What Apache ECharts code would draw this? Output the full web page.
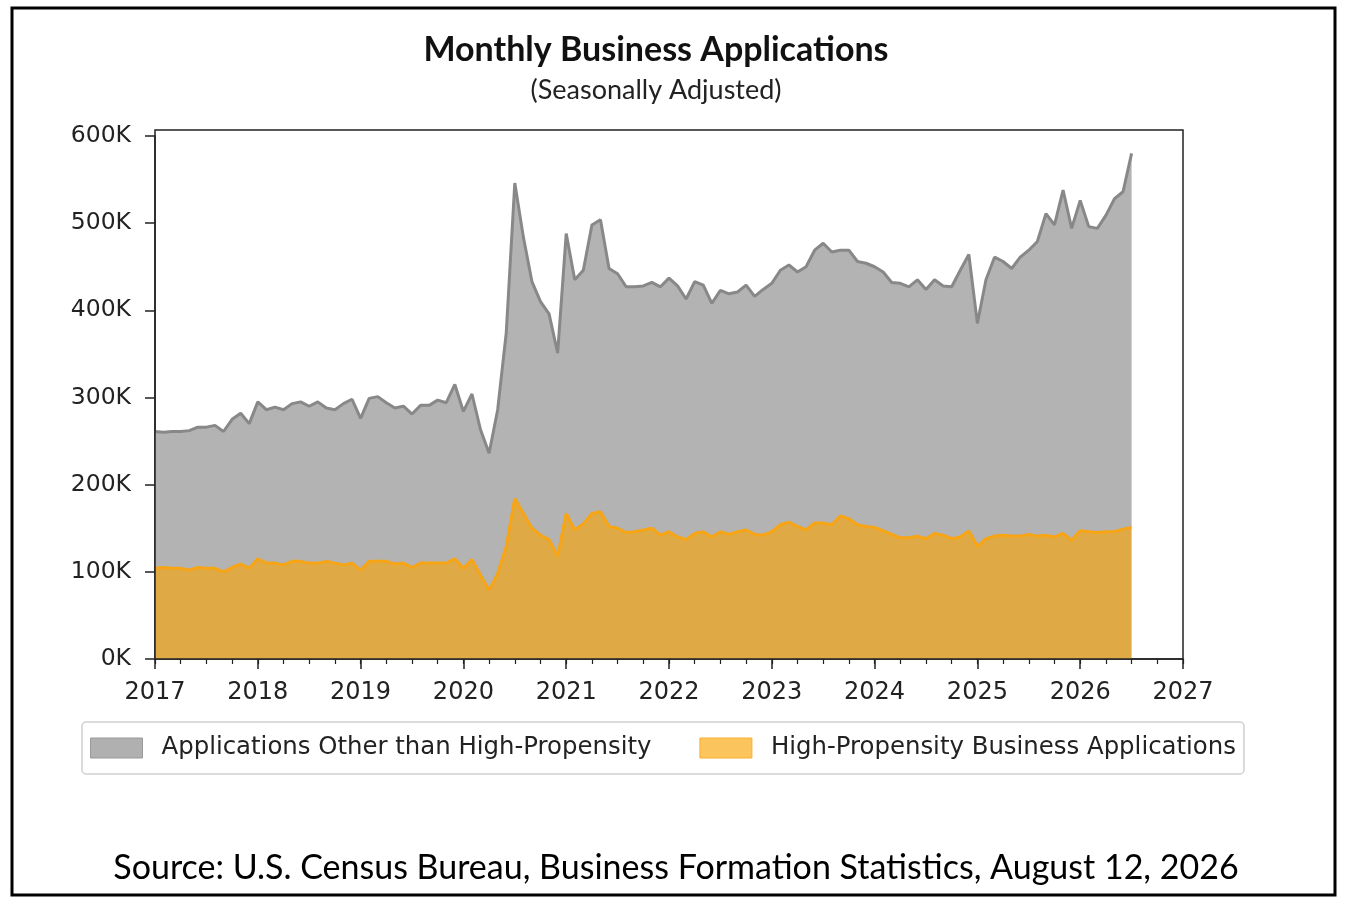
<!DOCTYPE html>
<html>
<head>
<meta charset="utf-8">
<script src="https://cdn.jsdelivr.net/npm/echarts@6/dist/echarts.min.js"></script>
<style>
  html, body { margin: 0; padding: 0; background: #fff; }
  #chart { width: 1352px; height: 908px; }
</style>
</head>
<body>
<div id="chart"></div>
<script>
// monthly values in thousands, Jan 2017 .. Jul 2026
var highPropensity = [
  104, 105, 104, 104, 102, 105, 104, 104, 100, 105, 109, 104,
  115, 110, 110, 108, 112, 112, 110, 110, 112, 110, 108, 110,
  102, 112, 112, 112, 109, 110, 105, 110, 110, 110, 110, 115,
  104, 114, 96, 79, 98, 129, 184, 167, 150, 142, 137, 118,
  167, 148, 155, 167, 169, 152, 150, 145, 146, 148, 150, 142,
  146, 140, 137, 144, 146, 140, 146, 143, 146, 148, 143, 142,
  146, 154, 157, 152, 148, 156, 156, 154, 164, 161, 154, 152,
  151, 147, 143, 139, 139, 141, 138, 144, 142, 138, 140, 147,
  129, 138, 141, 142, 141, 141, 143, 141, 142, 140, 144, 136,
  147, 146, 145, 146, 146, 149, 151
];
var otherApps = [
  157, 155, 157, 157, 160, 161, 162, 164, 161, 170, 173, 166,
  180, 176, 179, 178, 181, 183, 180, 185, 176, 176, 185, 188,
  174, 187, 189, 182, 179, 180, 176, 181, 181, 187, 184, 200,
  180, 190, 167, 157, 188, 245, 362, 317, 283, 268, 259, 233,
  321, 287, 291, 331, 335, 296, 292, 282, 281, 280, 282, 285,
  291, 288, 276, 289, 283, 268, 277, 276, 275, 281, 273, 282,
  285, 292, 295, 292, 302, 313, 321, 313, 305, 308, 302, 302,
  299, 297, 289, 292, 288, 294, 286, 291, 286, 289, 306, 317,
  256, 297, 320, 314, 307, 320, 326, 338, 369, 358, 394, 358,
  379, 350, 349, 363, 382, 387, 429
];
var seriesNames = ['Applications Other than High-Propensity', 'High-Propensity Business Applications'];

// month categories Jan 2017 .. Jan 2027 (axis runs to 2027)
var months = [];
for (var i = 0; i <= 120; i++) {
  var yr = 2017 + Math.floor(i / 12), m = (i % 12) + 1;
  months.push(yr + '-' + (m < 10 ? '0' + m : m));
}

var axisFont = 'DejaVu Sans';
var myChart = echarts.init(document.getElementById('chart'));

var option = {
  animation: false,
  backgroundColor: '#fff',
  title: {
    text: 'Monthly Business Applications',
    subtext: '(Seasonally Adjusted)',
    left: 651,
    textAlign: 'center',
    top: 28,
    itemGap: 10,
    textStyle: { fontFamily: 'Lato', fontWeight: 'bold', fontSize: 34, color: '#111' },
    subtextStyle: { fontFamily: 'Lato', fontSize: 27, color: '#222' }
  },
  legend: {
    data: [
      { name: seriesNames[0], itemStyle: { color: '#b0b0b0', borderColor: '#9a9a9a', borderWidth: 1 } },
      { name: seriesNames[1], itemStyle: { color: '#fcc45c', borderColor: '#f5b030', borderWidth: 1 } }
    ],
    left: 82,
    top: 722,
    padding: [14, 8, 14, 8],
    itemWidth: 52,
    itemHeight: 20,
    itemGap: 48,
    icon: 'rect',
    borderColor: '#d0d0d0',
    borderWidth: 1.5,
    borderRadius: 4,
    textStyle: { fontFamily: axisFont, fontSize: 24.4, color: '#222', padding: [0, 0, 0, 14] }
  },
  grid: {
    left: 155,
    right: 169,
    top: 136,
    bottom: 249
  },
  xAxis: [
    {
      type: 'category',
      data: months,
      boundaryGap: false,
      axisLine: { show: true, lineStyle: { color: '#222', width: 1.5 } },
      axisTick: {
        show: true, length: 10, lineStyle: { color: '#222', width: 1.5 },
        interval: function (idx) { return idx % 12 === 0; }
      },
      splitLine: { show: false },
      axisLabel: {
        fontFamily: axisFont, fontSize: 24, color: '#222', margin: 22,
        interval: function (idx) { return idx % 12 === 0; },
        formatter: function (val) { return val.slice(0, 4); }
      }
    },
    {
      type: 'category',
      data: months,
      boundaryGap: false,
      position: 'bottom',
      axisLine: { show: false },
      axisTick: {
        show: true, length: 5, lineStyle: { color: '#222', width: 1.2 },
        interval: function (idx) { return idx % 3 === 0; }
      },
      axisLabel: { show: false },
      splitLine: { show: false }
    }
  ],
  yAxis: {
    type: 'value',
    min: 0,
    max: 600,
    interval: 100,
    axisLine: { show: true, lineStyle: { color: '#222', width: 1.5 } },
    axisTick: { show: true, length: 10, lineStyle: { color: '#222', width: 1.5 } },
    splitLine: { show: false },
    axisLabel: { fontFamily: axisFont, fontSize: 23.5, color: '#222', margin: 24, formatter: '{value}K' }
  },
  series: [
    {
      name: seriesNames[1],
      type: 'line',
      stack: 'apps',
      showSymbol: false,
      data: highPropensity,
      lineStyle: { color: '#f7a514', width: 3 },
      itemStyle: { color: '#f7a514' },
      areaStyle: { color: '#dfa946', opacity: 1 },
      z: 3
    },
    {
      name: seriesNames[0],
      type: 'line',
      stack: 'apps',
      showSymbol: false,
      data: otherApps,
      lineStyle: { color: '#888888', width: 3 },
      itemStyle: { color: '#888888' },
      areaStyle: { color: '#b3b3b3', opacity: 1 },
      z: 2
    }
  ],
  graphic: [
    {
      type: 'rect',
      shape: { x: 155, y: 130, width: 1028, height: 529 },
      style: { fill: 'none', stroke: '#222', lineWidth: 1.5 },
      silent: true,
      z: 10
    },
    {
      type: 'rect',
      shape: { x: 12, y: 8, width: 1323, height: 887 },
      style: { fill: 'none', stroke: '#000', lineWidth: 3 },
      silent: true
    },
    {
      type: 'text',
      left: 'center',
      top: 851,
      style: {
        text: 'Source: U.S. Census Bureau, Business Formation Statistics, August 12, 2026',
        fontFamily: 'Lato',
        fontSize: 34,
        fill: '#000'
      }
    }
  ]
};

myChart.setOption(option);
window.addEventListener('resize', function () {
  myChart.resize();
});
</script>
</body>
</html>
